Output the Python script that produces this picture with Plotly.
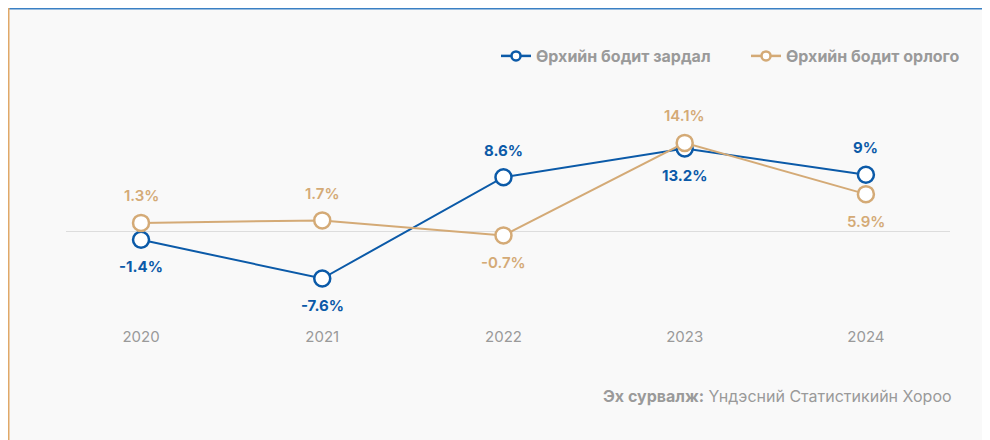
import plotly.graph_objects as go

years = ["2020", "2021", "2022", "2023", "2024"]
spending = [-1.4, -7.6, 8.6, 13.2, 9.0]
income = [1.3, 1.7, -0.7, 14.1, 5.9]
spending_name = "Өрхийн бодит зардал"
income_name = "Өрхийн бодит орлого"
source_label = "Эх сурвалж:"
source_text = "Үндэсний Статистикийн Хороо"
# label placement: +1 above point, -1 below point
spending_side = [-1, -1, 1, -1, 1]
income_side = [1, 1, -1, 1, -1]

BLUE = "#0b5aa8"
ORANGE = "#d4aa76"
GREY = "#9a9a9a"
FONT = "Inter, Roboto, sans-serif"

def fmt(v):
    return f"{v:g}%"

W, H = 982, 432
L, R, T, B = 58, 942, 72, 318
ZERO_Y, SCALE = 223, 6.25

def px(x):
    return (x - L) / (R - L)
def py(y):
    return (B - y) / (B - T)

fig = go.Figure()
fig.add_trace(go.Scatter(
    x=years, y=spending, name=spending_name, mode="lines+markers", showlegend=False,
    line=dict(color=BLUE, width=2),
    marker=dict(size=16, color="white", line=dict(color=BLUE, width=2.5)),
))
fig.add_trace(go.Scatter(
    x=years, y=income, name=income_name, mode="lines+markers", showlegend=False,
    line=dict(color=ORANGE, width=2),
    marker=dict(size=16, color="white", line=dict(color=ORANGE, width=2.5)),
))
# legend entries (smaller symbols)
for name, col in [(spending_name, BLUE), (income_name, ORANGE)]:
    fig.add_trace(go.Scatter(
        x=[None], y=[None], name=f"<b>{name}</b>", mode="lines+markers",
        line=dict(color=col, width=2.5),
        marker=dict(size=9, color="white", line=dict(color=col, width=2.5)),
    ))

annotations = []
for i, (v, s) in enumerate(zip(spending, spending_side)):
    annotations.append(dict(x=i, y=v, xref="x", yref="y", text=f"<b>{fmt(v)}</b>",
                            showarrow=False, yshift=27 * s, xanchor="center", yanchor="middle",
                            font=dict(size=15, color=BLUE, family=FONT)))
for i, (v, s) in enumerate(zip(income, income_side)):
    annotations.append(dict(x=i, y=v, xref="x", yref="y", text=fmt(v),
                            showarrow=False, yshift=27 * s, xanchor="center", yanchor="middle",
                            font=dict(size=15, color=ORANGE, family=FONT, weight=600)))
annotations.append(dict(xref="paper", yref="paper", x=px(946), y=py(388), xanchor="right",
                        yanchor="middle", text=f"<b>{source_label}</b> {source_text}",
                        showarrow=False, font=dict(size=16, color=GREY, family=FONT)))

fig.update_layout(
    width=W, height=H,
    margin=dict(l=L, r=W - R, t=T, b=H - B, pad=0, autoexpand=False),
    paper_bgcolor="#f9f9f9", plot_bgcolor="rgba(0,0,0,0)",
    font=dict(family=FONT, color=GREY),
    showlegend=True,
    legend=dict(orientation="h", x=px(488), xanchor="left", y=py(48), yanchor="middle",
                font=dict(size=16, color=GREY, family=FONT),
                entrywidth=205, entrywidthmode="pixels",
                itemwidth=30, bgcolor="rgba(0,0,0,0)", tracegroupgap=0),
    xaxis=dict(type="category", range=[-0.414, 4.464], showgrid=False, zeroline=False,
               showline=False, ticks="", tickfont=dict(size=15, color=GREY, family=FONT),
               fixedrange=True),
    yaxis=dict(range=[-(B - ZERO_Y) / SCALE, (ZERO_Y - T) / SCALE], showgrid=False,
               zeroline=True, zerolinecolor="#dddddd", zerolinewidth=1,
               showticklabels=False, ticks="", showline=False),
    shapes=[
        dict(type="line", xref="paper", yref="paper", x0=px(0), x1=px(W), y0=py(0.5), y1=py(0.5),
             line=dict(color="#3a80c4", width=2)),
        dict(type="line", xref="paper", yref="paper", x0=px(0.5), x1=px(0.5), y0=py(0), y1=py(H),
             line=dict(color="#e0a868", width=2)),
    ],
    annotations=annotations,
)

fig.write_html("out.html")
